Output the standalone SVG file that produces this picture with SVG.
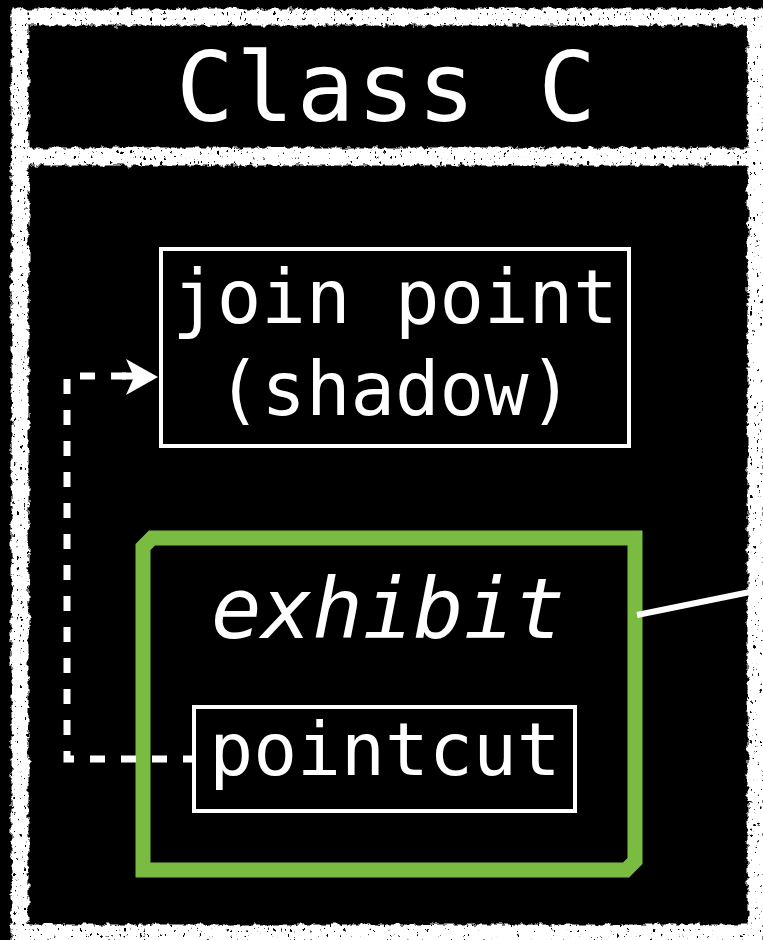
<svg xmlns="http://www.w3.org/2000/svg" width="763" height="940" viewBox="0 0 763 940">
  <defs>
    <style>
      .mono { font-family: "DejaVu Sans Mono", "Liberation Mono", monospace; fill: #ffffff; text-anchor: middle; }
      .chalk { fill: none; stroke: #ffffff; stroke-width: 17; }
      .box { fill: #000000; stroke: #ffffff; stroke-width: 4; }
      .green { fill: #000000; stroke: #7abb42; stroke-width: 15; stroke-linejoin: miter; }
      .dash { fill: none; stroke: #ffffff; stroke-width: 7; stroke-dasharray: 15 16; }
      .solid { fill: none; stroke: #ffffff; stroke-width: 6; }
    </style>
    <filter id="chalkFx" x="-5%" y="-5%" width="110%" height="110%" color-interpolation-filters="sRGB">
      <feTurbulence type="fractalNoise" baseFrequency="0.15" numOctaves="3" seed="3" result="noise"/>
      <feDisplacementMap in="SourceGraphic" in2="noise" scale="7" xChannelSelector="R" yChannelSelector="G" result="disp"/>
      <feTurbulence type="turbulence" baseFrequency="0.3 0.18" numOctaves="2" seed="11" result="n2"/>
      <feColorMatrix in="n2" type="matrix" values="0 0 0 0 0  0 0 0 0 0  0 0 0 0 0  -12 0 0 0 7.2" result="mask"/>
      <feComposite in="disp" in2="mask" operator="in"/>
    </filter>
  </defs>

  <rect x="0" y="0" width="763" height="940" fill="#000000"/>

  <g id="class-frame" filter="url(#chalkFx)">
    <rect class="chalk" x="20" y="17" width="736" height="139"/>
    <rect class="chalk" x="20" y="157" width="736" height="776"/>
  </g>

  <g id="title">
    <text class="mono" x="386" y="121" font-size="96" textLength="420" lengthAdjust="spacing">Class C</text>
  </g>

  <g id="join-point">
    <rect class="box" x="161" y="249" width="468" height="197"/>
    <text class="mono" x="395" y="323" font-size="74">join point</text>
    <text class="mono" x="395" y="415" font-size="74">(shadow)</text>
  </g>

  <g id="exhibit">
    <path class="green" d="M143,547 L152,538 H635 V861 L626,870 H143 Z"/>
    <text class="mono" x="388" y="638" font-size="84" font-style="italic">exhibit</text>
  </g>

  <g id="pointcut">
    <rect class="box" x="194" y="707" width="381" height="104"/>
    <text class="mono" x="385" y="775" font-size="73">pointcut</text>
  </g>

  <g id="connectors">
    <path class="dash" d="M192,759 H67 V376 H126" stroke-dashoffset="6"/>
    <path d="M126,359 L158,377 L126,395 L134,377 Z" fill="#ffffff"/>
    <path d="M122,376 H136" stroke="#ffffff" stroke-width="7"/>
    <path class="solid" d="M637,615 L770,588"/>
  </g>
</svg>
